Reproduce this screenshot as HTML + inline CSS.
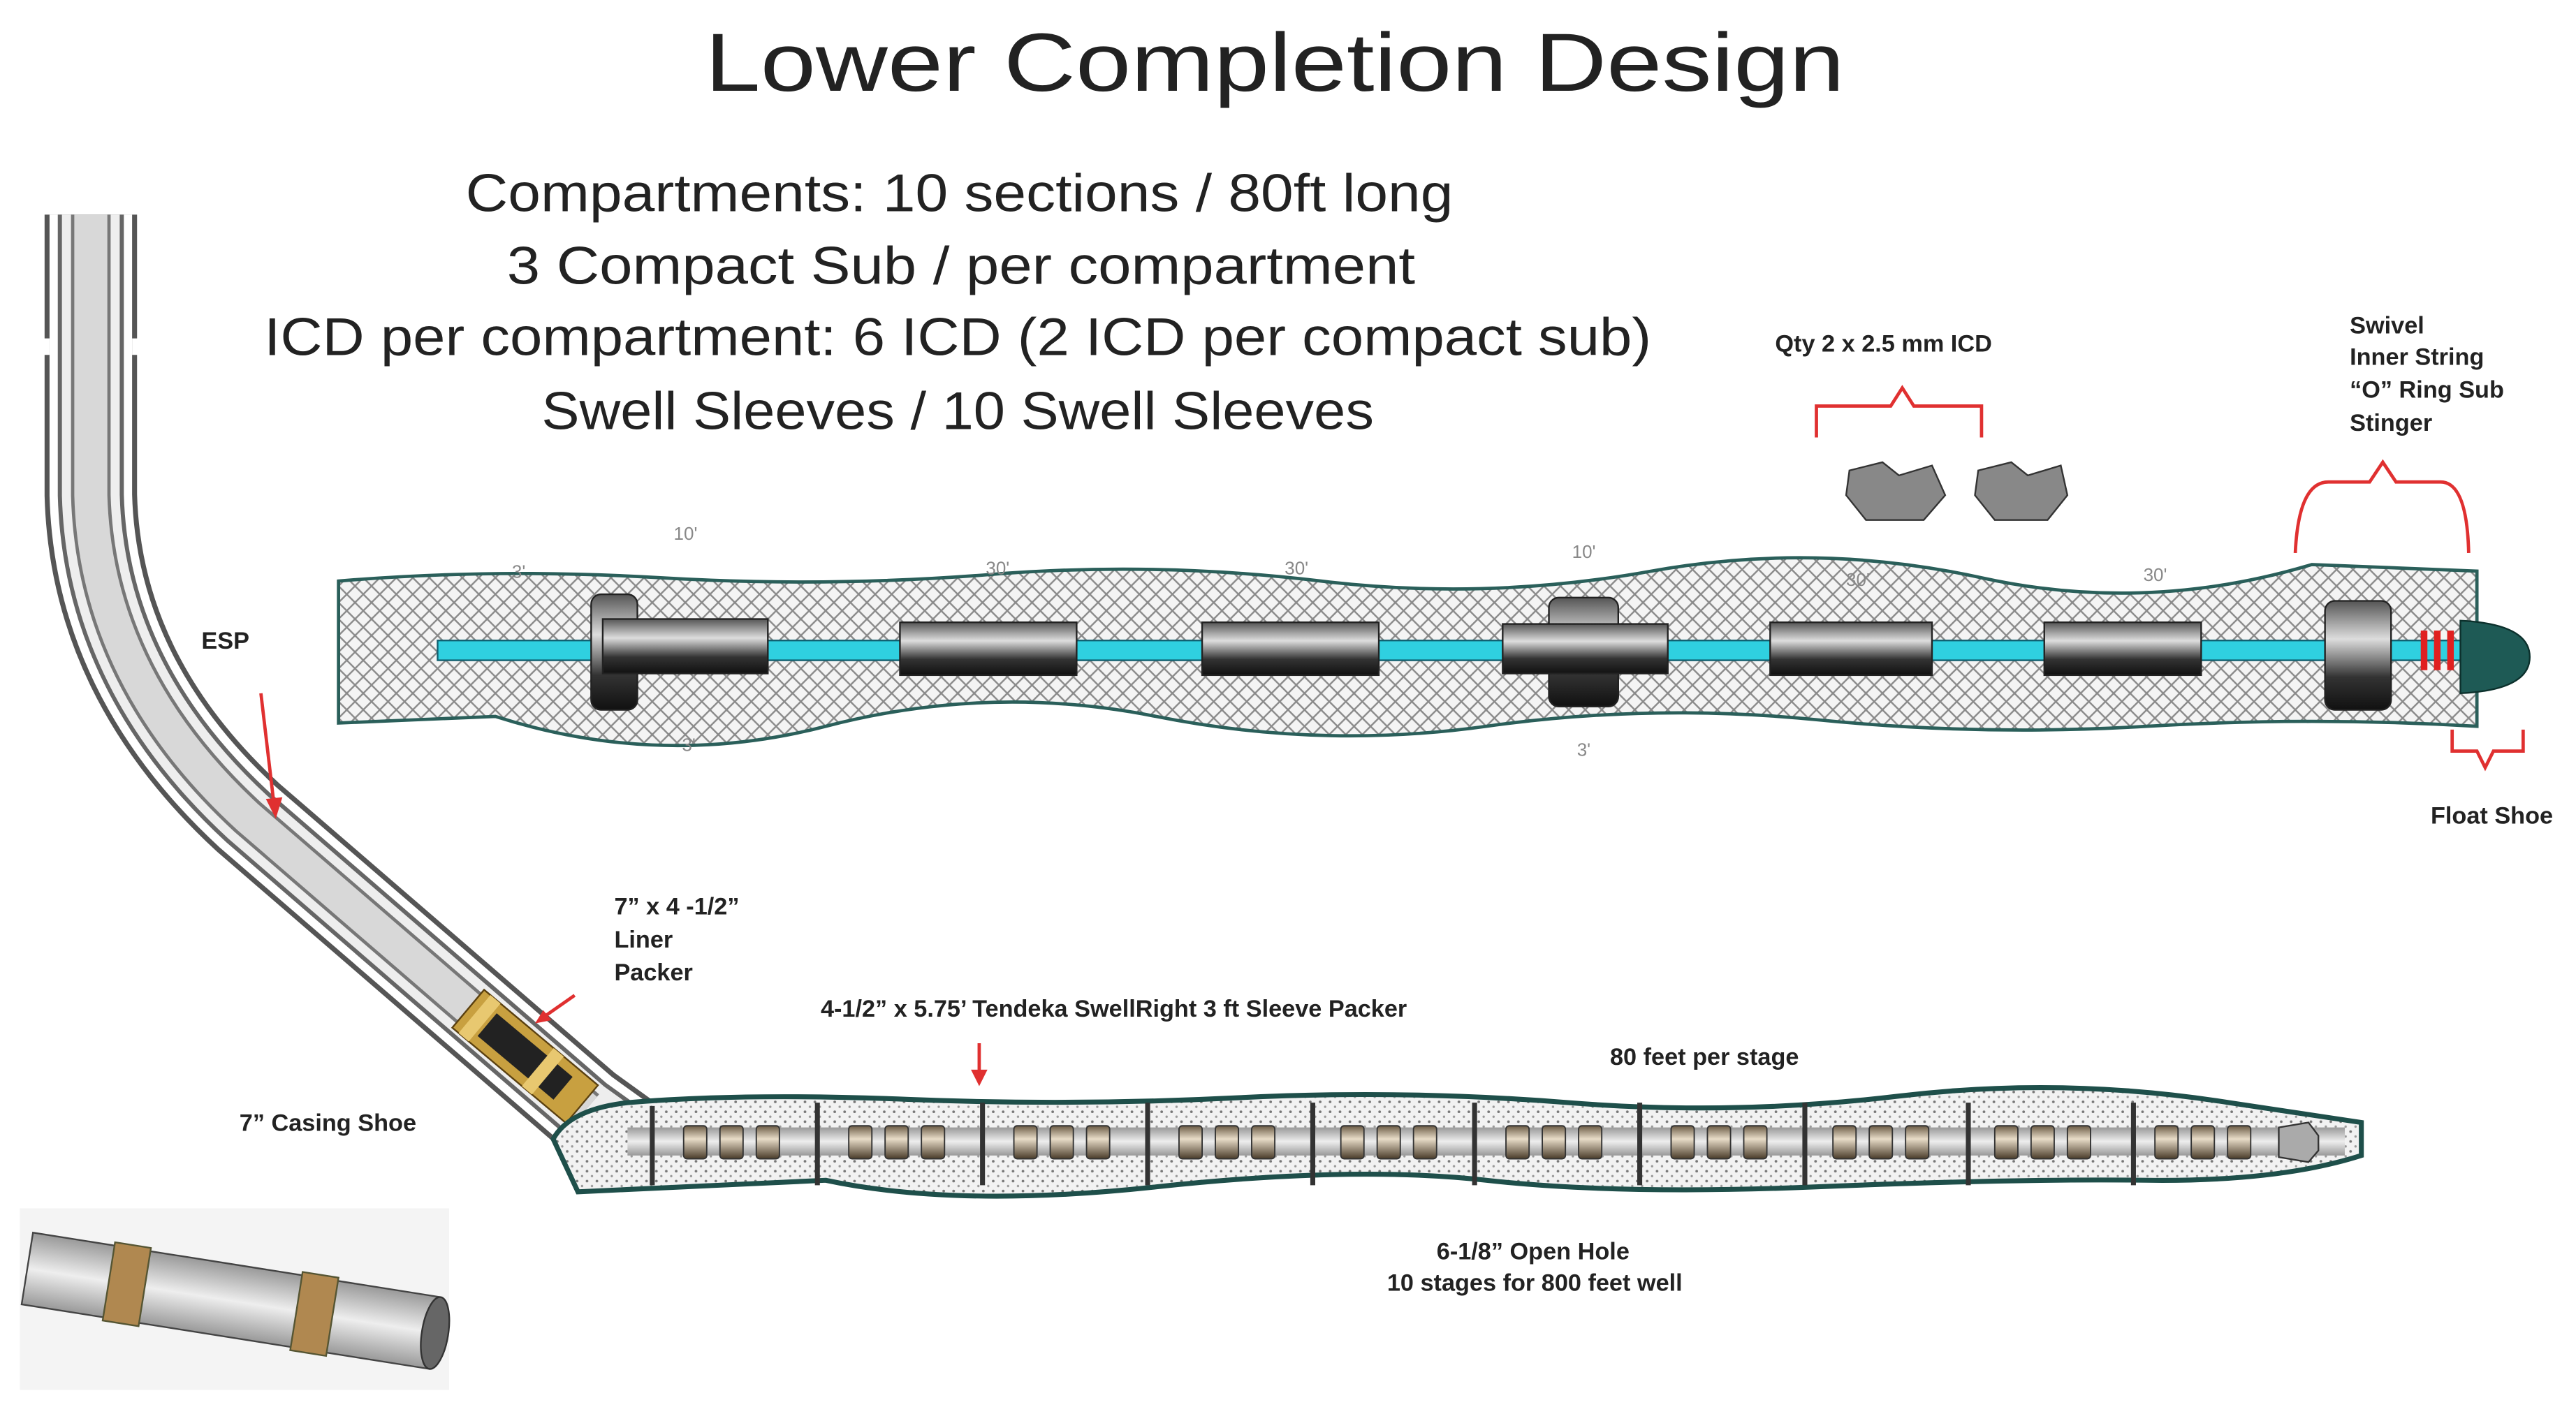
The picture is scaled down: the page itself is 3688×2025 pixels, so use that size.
<!DOCTYPE html>
<html><head><meta charset="utf-8"><style>
html,body{margin:0;padding:0;background:#fff;}
svg{display:block;}
text{font-family:"Liberation Sans",sans-serif;}
.b{font-weight:bold;font-size:14.5px;fill:#222;}
.h{font-size:32px;fill:#222;}
.dim{font-size:11px;fill:#888;}
</style></head><body>
<svg width="3688" height="2025" viewBox="0 0 1560 856.6" preserveAspectRatio="none" xmlns="http://www.w3.org/2000/svg">
<defs>
<pattern id="hatch" width="10" height="10" patternUnits="userSpaceOnUse">
<rect width="10" height="10" fill="#f4f4f4"/>
<path d="M0 0L10 10M10 0L0 10" stroke="#8a8a8a" stroke-width="1"/>
</pattern>
<pattern id="dots" width="6" height="6" patternUnits="userSpaceOnUse">
<rect width="6" height="6" fill="#f2f2f2"/>
<circle cx="1.5" cy="1.5" r="0.8" fill="#777"/><circle cx="4.5" cy="4.5" r="0.7" fill="#999"/>
</pattern>
<linearGradient id="cyl" x1="0" y1="0" x2="0" y2="1">
<stop offset="0" stop-color="#555"/><stop offset="0.35" stop-color="#ddd"/><stop offset="0.7" stop-color="#333"/><stop offset="1" stop-color="#111"/>
</linearGradient>
<linearGradient id="brn" x1="0" y1="0" x2="0" y2="1">
<stop offset="0" stop-color="#6b5b45"/><stop offset="0.4" stop-color="#e8dcc8"/><stop offset="1" stop-color="#4a3c2a"/>
</linearGradient>
<linearGradient id="pipeg" x1="0" y1="0" x2="0" y2="1">
<stop offset="0" stop-color="#999"/><stop offset="0.5" stop-color="#eee"/><stop offset="1" stop-color="#999"/>
</linearGradient>
</defs>

<text x="772" y="55" text-anchor="middle" font-size="50" fill="#222" textLength="690" lengthAdjust="spacingAndGlyphs">Lower Completion Design</text>
<text x="581" y="128" text-anchor="middle" class="h" textLength="598" lengthAdjust="spacingAndGlyphs">Compartments: 10 sections / 80ft long</text>
<text x="582" y="172" text-anchor="middle" class="h" textLength="550" lengthAdjust="spacingAndGlyphs">3 Compact Sub / per compartment</text>
<text x="580" y="215" text-anchor="middle" class="h" textLength="840" lengthAdjust="spacingAndGlyphs">ICD per compartment: 6 ICD (2 ICD per compact sub)</text>
<text x="580" y="260" text-anchor="middle" class="h" textLength="504" lengthAdjust="spacingAndGlyphs">Swell Sleeves / 10 Swell Sleeves</text>

<!-- upper hatched hole -->
<path d="M205 352 Q300 344 400 350 T600 348 T800 352 T1000 346 T1200 350 T1400 342 L1500 346 L1500 440 Q1400 434 1300 440 T1100 436 T900 440 T700 434 T500 440 T300 434 L205 438 Z" fill="url(#hatch)" stroke="#2a5f5a" stroke-width="2"/>
<rect x="265" y="388" width="1245" height="12" fill="#2fd0e0" stroke="#106070" stroke-width="1"/>
<g fill="url(#cyl)" stroke="#222" stroke-width="1">
<rect x="358" y="360" width="28" height="70" rx="6"/>
<rect x="365" y="375" width="100" height="33"/>
<rect x="545" y="377" width="107" height="32"/>
<rect x="728" y="377" width="107" height="32"/>
<rect x="938" y="362" width="42" height="66" rx="6"/>
<rect x="910" y="378" width="100" height="30"/>
<rect x="1072" y="377" width="98" height="32"/>
<rect x="1238" y="377" width="95" height="32"/>
<rect x="1408" y="364" width="40" height="66" rx="6"/>
</g>
<g fill="#e02020"><rect x="1466" y="382" width="4" height="24"/><rect x="1474" y="382" width="4" height="24"/><rect x="1482" y="382" width="4" height="24"/></g>
<path d="M1490 376 Q1532 378 1532 398 Q1532 418 1490 420 Z" fill="#1e5a55" stroke="#0c302c"/>
<g class="dim">
<text x="408" y="327">10'</text><text x="310" y="350">3'</text><text x="597" y="348">30'</text><text x="778" y="348">30'</text>
<text x="952" y="338">10'</text><text x="1118" y="355">30'</text><text x="1298" y="352">30'</text>
<text x="413" y="455">3'</text><text x="955" y="458">3'</text>
</g>

<!-- ICD labels -->
<text x="1075" y="213" class="b">Qty 2 x 2.5 mm ICD</text>
<path d="M1100 265 V246 H1145 L1152 235 L1159 246 H1200 V265" fill="none" stroke="#e03030" stroke-width="2"/>
<g fill="#888" stroke="#333">
<path d="M1120 285 L1140 280 L1150 288 L1170 282 L1178 300 L1165 315 L1130 315 L1118 300 Z"/>
<path d="M1198 285 L1218 280 L1228 288 L1248 282 L1252 300 L1240 315 L1208 315 L1196 300 Z"/>
</g>
<text x="1423" y="202" class="b">Swivel</text>
<text x="1423" y="221" class="b">Inner String</text>
<text x="1423" y="241" class="b">“O” Ring Sub</text>
<text x="1423" y="261" class="b">Stinger</text>
<path d="M1390 335 Q1392 292 1410 292 H1435 L1443 280 L1451 292 H1478 Q1494 292 1495 335" fill="none" stroke="#e03030" stroke-width="2"/>
<path d="M1485 442 V455 H1500 L1505 465 L1510 455 H1528 V442" fill="none" stroke="#e03030" stroke-width="2"/>
<text x="1472" y="499" class="b">Float Shoe</text>

<!-- left well -->
<g fill="none" stroke-linejoin="round">
<path d="M55 130 L55 300 Q58 410 150 495 L355 672 L380 690" stroke="#555" stroke-width="56"/>
<path d="M55 130 L55 300 Q58 410 150 495 L355 672 L380 690" stroke="#fff" stroke-width="50"/>
<path d="M55 130 L55 300 Q58 410 150 495 L355 672 L380 690" stroke="#666" stroke-width="40"/>
<path d="M55 130 L55 300 Q58 410 150 495 L355 672 L380 690" stroke="#eee" stroke-width="35"/>
<path d="M55 130 L55 300 Q58 410 150 495 L355 672" stroke="#777" stroke-width="24"/>
<path d="M55 130 L55 300 Q58 410 150 495 L355 672" stroke="#d8d8d8" stroke-width="20"/>
</g>
<rect x="22" y="205" width="8" height="10" fill="#fff"/><rect x="80" y="205" width="8" height="10" fill="#fff"/>
<text x="122" y="393" class="b">ESP</text>
<path d="M158 420 L166 488" stroke="#e03030" stroke-width="2"/><path d="M161 484 L167 496 L171 483 Z" fill="#e03030"/>
<g transform="translate(318 640) rotate(40)">
<rect x="-45" y="-15" width="90" height="30" fill="#c8a040" stroke="#5a4010"/>
<rect x="-30" y="-9" width="60" height="18" fill="#222"/>
<rect x="-40" y="-15" width="8" height="30" fill="#e8c870"/><rect x="10" y="-15" width="8" height="30" fill="#e8c870"/>
</g>
<text x="372" y="554" class="b">7” x 4 -1/2”</text>
<text x="372" y="574" class="b">Liner</text>
<text x="372" y="594" class="b">Packer</text>
<path d="M348 603 L328 617" stroke="#e03030" stroke-width="2"/><path d="M324 620 L334 618 L329 612 Z" fill="#e03030"/>
<text x="145" y="685" class="b">7” Casing Shoe</text>

<!-- lower open hole -->
<path d="M335 690 Q345 672 380 668 Q450 662 550 666 T750 665 T950 668 T1150 664 T1350 668 L1430 680 L1430 700 Q1380 716 1300 715 T1100 719 T900 715 T700 719 T500 715 L350 722 Z" fill="url(#dots)" stroke="#1e4f4a" stroke-width="3"/>
<rect x="380" y="683" width="1040" height="17" fill="url(#pipeg)"/>
<g stroke="#333" stroke-width="3">
<line x1="395" y1="670" x2="395" y2="718"/><line x1="495" y1="668" x2="495" y2="718"/><line x1="595" y1="668" x2="595" y2="718"/>
<line x1="695" y1="668" x2="695" y2="718"/><line x1="795" y1="668" x2="795" y2="718"/><line x1="893" y1="668" x2="893" y2="718"/>
<line x1="993" y1="668" x2="993" y2="718"/><line x1="1093" y1="668" x2="1093" y2="718"/><line x1="1192" y1="668" x2="1192" y2="718"/>
<line x1="1292" y1="668" x2="1292" y2="718"/>
</g>
<g fill="url(#brn)" stroke="#333" stroke-width="0.8">
<rect x="414" y="682" width="14" height="20" rx="2"/><rect x="436" y="682" width="14" height="20" rx="2"/><rect x="458" y="682" width="14" height="20" rx="2"/>
<rect x="514" y="682" width="14" height="20" rx="2"/><rect x="536" y="682" width="14" height="20" rx="2"/><rect x="558" y="682" width="14" height="20" rx="2"/>
<rect x="614" y="682" width="14" height="20" rx="2"/><rect x="636" y="682" width="14" height="20" rx="2"/><rect x="658" y="682" width="14" height="20" rx="2"/>
<rect x="714" y="682" width="14" height="20" rx="2"/><rect x="736" y="682" width="14" height="20" rx="2"/><rect x="758" y="682" width="14" height="20" rx="2"/>
<rect x="812" y="682" width="14" height="20" rx="2"/><rect x="834" y="682" width="14" height="20" rx="2"/><rect x="856" y="682" width="14" height="20" rx="2"/>
<rect x="912" y="682" width="14" height="20" rx="2"/><rect x="934" y="682" width="14" height="20" rx="2"/><rect x="956" y="682" width="14" height="20" rx="2"/>
<rect x="1012" y="682" width="14" height="20" rx="2"/><rect x="1034" y="682" width="14" height="20" rx="2"/><rect x="1056" y="682" width="14" height="20" rx="2"/>
<rect x="1110" y="682" width="14" height="20" rx="2"/><rect x="1132" y="682" width="14" height="20" rx="2"/><rect x="1154" y="682" width="14" height="20" rx="2"/>
<rect x="1208" y="682" width="14" height="20" rx="2"/><rect x="1230" y="682" width="14" height="20" rx="2"/><rect x="1252" y="682" width="14" height="20" rx="2"/>
<rect x="1305" y="682" width="14" height="20" rx="2"/><rect x="1327" y="682" width="14" height="20" rx="2"/><rect x="1349" y="682" width="14" height="20" rx="2"/>
</g>
<path d="M1380 683 L1398 680 L1404 688 L1404 697 L1398 704 L1380 701 Z" fill="#aaa" stroke="#333"/>
<text x="497" y="616" class="b">4-1/2”  x 5.75’ Tendeka SwellRight 3 ft Sleeve Packer</text>
<path d="M593 632 L593 650" stroke="#e03030" stroke-width="2"/><path d="M588 648 L593 658 L598 648 Z" fill="#e03030"/>
<text x="975" y="645" class="b">80 feet per stage</text>
<text x="870" y="763" class="b">6-1/8”  Open Hole</text>
<text x="840" y="782" class="b">10 stages for 800 feet well</text>

<!-- bottom-left render -->
<rect x="12" y="732" width="260" height="110" fill="#f4f4f4"/>
<g transform="translate(140 788) rotate(9)">
<rect x="-125" y="-22" width="250" height="44" fill="url(#pipeg)" stroke="#444"/>
<rect x="-75" y="-24" width="22" height="48" fill="#b08850" stroke="#553"/>
<rect x="40" y="-24" width="22" height="48" fill="#b08850" stroke="#553"/>
<ellipse cx="125" cy="0" rx="8" ry="22" fill="#666" stroke="#333"/>
</g>
</svg>
</body></html>
